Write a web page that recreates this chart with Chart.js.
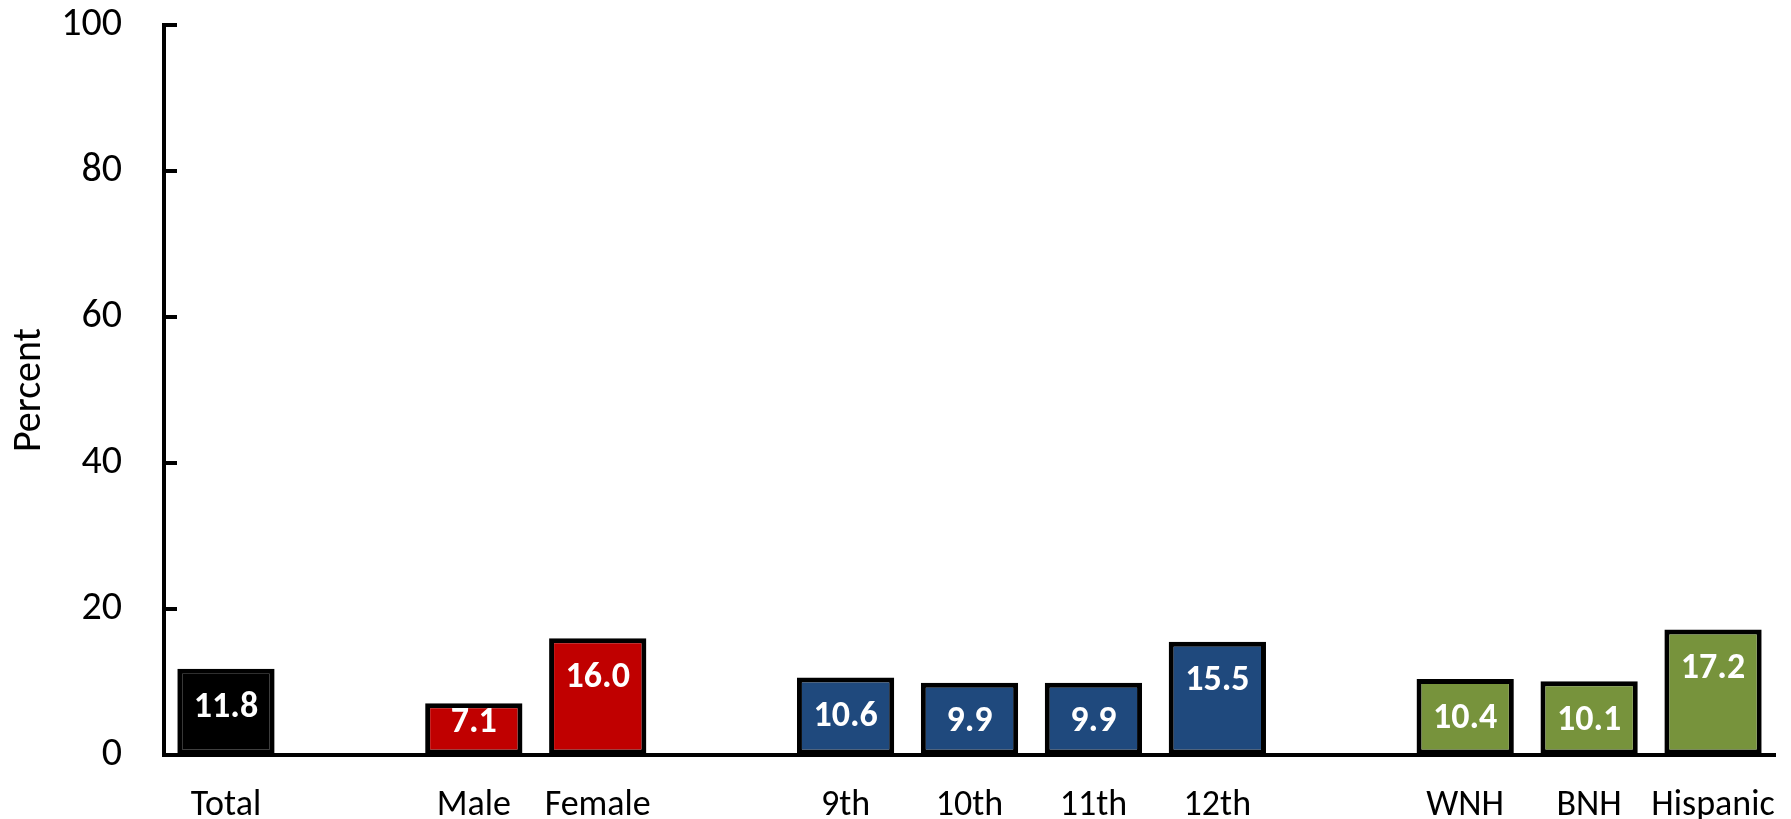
<!DOCTYPE html>
<html>
<head>
<meta charset="utf-8">
<script src="https://cdn.jsdelivr.net/npm/chart.js@4/dist/chart.umd.min.js"></script>
<style>
  html, body { margin: 0; padding: 0; background: #fff; }
  #wrap { width: 1791px; height: 819px; position: relative; }
</style>
</head>
<body>
<div id="wrap"><canvas id="c" width="1791" height="819"></canvas></div>
<script>
// Categories (empty strings are spacer slots between groups)
const categories = ['Total', '', 'Male', 'Female', '', '9th', '10th', '11th', '12th', '', 'WNH', 'BNH', 'Hispanic'];
// Percent values (null = spacer)
const values = [11.8, null, 7.1, 16.0, null, 10.6, 9.9, 9.9, 15.5, null, 10.4, 10.1, 17.2];
// Bar colours per slot
const barColors = ['#000000', null, '#C00000', '#C00000', null, '#1F497D', '#1F497D', '#1F497D', '#1F497D', null, '#77933C', '#77933C', '#77933C'];
// Y axis ticks
const yTicks = [0, 20, 40, 60, 80, 100];

const FONT = "Carlito, Calibri, Lato, sans-serif";

const valueLabels = {
  id: 'valueLabels',
  afterDatasetsDraw(chart) {
    const ctx = chart.ctx;
    const meta = chart.getDatasetMeta(0);
    ctx.save();
    ctx.fillStyle = '#ffffff';
    ctx.font = "bold 36px " + FONT;
    ctx.textAlign = 'center';
    ctx.textBaseline = 'middle';
    meta.data.forEach((bar, i) => {
      const v = values[i];
      if (v === null) return;
      const top = bar.y, bottom = bar.base;
      const y = Math.min(top + 39.5, bottom - 31.5);
      ctx.fillText(v.toFixed(1), bar.x, y);
    });
    ctx.restore();
  }
};

const innerTicks = {
  id: 'innerTicks',
  afterDraw(chart) {
    const ctx = chart.ctx;
    const ys = chart.scales.y;
    const left = chart.chartArea.left;
    ctx.save();
    ctx.strokeStyle = '#000';
    ctx.lineWidth = 4;
    yTicks.forEach(t => {
      if (t === 0) return;
      const py = Math.round(ys.getPixelForValue(t));
      ctx.beginPath();
      ctx.moveTo(left - 2, py);
      ctx.lineTo(left + 13, py);
      ctx.stroke();
    });
    ctx.restore();
  }
};

new Chart(document.getElementById('c'), {
  type: 'bar',
  data: {
    labels: categories,
    datasets: [{
      data: values,
      backgroundColor: barColors,
      borderColor: '#000000',
      borderWidth: 5,
      borderSkipped: false,
      categoryPercentage: 1.0,
      barPercentage: 0.785
    }]
  },
  options: {
    responsive: false,
    animation: false,
    devicePixelRatio: 1,
    layout: { padding: { top: 25, right: 16, left: 0, bottom: 0 } },
    plugins: { legend: { display: false }, tooltip: { enabled: false } },
    scales: {
      x: {
        grid: { display: true, drawOnChartArea: false, drawTicks: true, tickLength: 29, tickColor: 'rgba(0,0,0,0)' },
        border: { display: true, color: '#000', width: 4 },
        ticks: { color: '#000', font: { family: FONT, size: 36 }, padding: 0, maxRotation: 0, autoSkip: false },
        afterFit(scale) { scale.height = 64; }
      },
      y: {
        min: 0, max: 100,
        afterBuildTicks(scale) { scale.ticks = yTicks.map(v => ({ value: v })); },
        grid: { display: true, drawOnChartArea: false, drawTicks: true, tickLength: 42, tickColor: 'rgba(0,0,0,0)' },
        border: { display: true, color: '#000', width: 4 },
        ticks: { color: '#000', font: { family: FONT, size: 40 }, padding: 0 },
        title: { display: true, text: 'Percent', color: '#000', font: { family: FONT, size: 40 }, padding: { top: 6, bottom: 0 } },
        afterFit(scale) { scale.width = 164; }
      }
    }
  },
  plugins: [valueLabels, innerTicks]
});
</script>
</body>
</html>
